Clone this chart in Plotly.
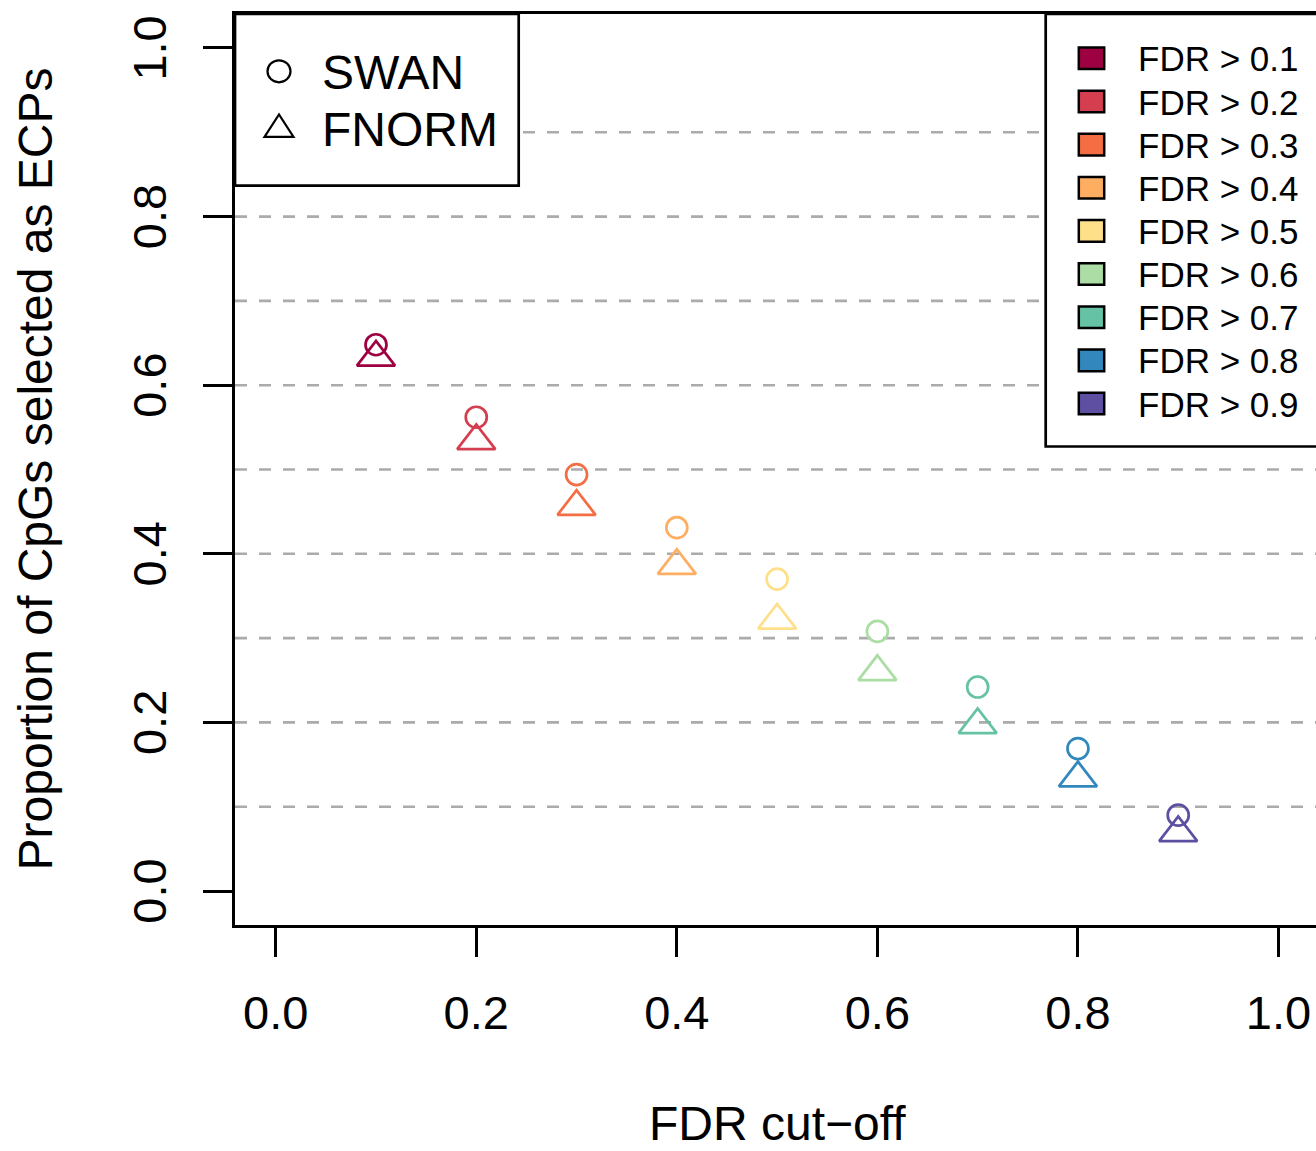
import plotly.graph_objects as go

# FDR cut-off values and the proportion of CpGs selected as ECPs for each method
fdr_cutoff = [0.1, 0.2, 0.3, 0.4, 0.5, 0.6, 0.7, 0.8, 0.9]
swan = [0.648, 0.562, 0.494, 0.431, 0.370, 0.308, 0.242, 0.169, 0.090]
fnorm = [0.633, 0.534, 0.456, 0.386, 0.321, 0.260, 0.197, 0.134, 0.069]

# Spectral palette, one colour per cut-off
fdr_colors = ["#9E0142", "#D53E4F", "#F46D43", "#FDAE61", "#FEE08B",
              "#ABDDA4", "#66C2A5", "#3288BD", "#5E4FA2"]
fdr_labels = ["FDR > 0.1", "FDR > 0.2", "FDR > 0.3", "FDR > 0.4", "FDR > 0.5",
              "FDR > 0.6", "FDR > 0.7", "FDR > 0.8", "FDR > 0.9"]
method_labels = ["SWAN", "FNORM"]

x_ticks = [0.0, 0.2, 0.4, 0.6, 0.8, 1.0]
y_ticks = [0.0, 0.2, 0.4, 0.6, 0.8, 1.0]
grid_levels = [0.1, 0.2, 0.3, 0.4, 0.5, 0.6, 0.7, 0.8, 0.9]

FONT = "Liberation Sans, Arial, sans-serif"
W, H = 1316, 1151
L, R, T, B = 235, 1316, 14, 925  # plot area in pixels
LW = 2.7


def px(x):
    return (x - L) / (R - L)


def py(y):
    return (B - y) / (B - T)


fig = go.Figure()

fig.add_trace(go.Scatter(
    x=fdr_cutoff, y=swan, mode="markers", name=method_labels[0], showlegend=False,
    marker=dict(symbol="circle-open", size=21, color=fdr_colors,
                line=dict(width=2.7)),
))
fig.add_trace(go.Scatter(
    x=fdr_cutoff, y=fnorm, mode="markers", name=method_labels[1], showlegend=False,
    marker=dict(symbol="triangle-up-open", size=33, color=fdr_colors,
                line=dict(width=2.7)),
))

shapes = []
# dashed horizontal reference lines
for g in grid_levels:
    shapes.append(dict(type="line", xref="paper", yref="y", x0=0, x1=1, y0=g, y1=g,
                       line=dict(color="#ABABAB", width=2.6, dash="12px,12px"),
                       layer="below"))

annotations = []

# method legend (top left)
shapes.append(dict(type="rect", xref="paper", yref="paper",
                   x0=px(235), x1=px(518.7), y0=py(185.7), y1=py(14),
                   line=dict(color="black", width=LW), fillcolor="white", layer="above"))
shapes.append(dict(type="circle", xref="paper", yref="paper",
                   x0=px(279 - 11.5), x1=px(279 + 11.5),
                   y0=py(71.3 + 11), y1=py(71.3 - 11),
                   line=dict(color="black", width=2.2), layer="above"))
tri_cx, tri_top, tri_base, tri_hw = 279, 114.5, 136.8, 14.5
shapes.append(dict(type="path", xref="paper", yref="paper",
                   path=(f"M {px(tri_cx - tri_hw)},{py(tri_base)} "
                         f"L {px(tri_cx + tri_hw)},{py(tri_base)} "
                         f"L {px(tri_cx)},{py(tri_top)} Z"),
                   line=dict(color="black", width=2.2), layer="above"))
for lbl, yc in zip(method_labels, [72.5, 130.0]):
    annotations.append(dict(text=lbl, xref="paper", yref="paper", x=px(320), y=py(yc),
                            xanchor="left", yanchor="middle", showarrow=False,
                            font=dict(family=FONT, size=48, color="black")))

# cut-off colour legend (top right)
shapes.append(dict(type="rect", xref="paper", yref="paper",
                   x0=px(1045.7), x1=px(1340), y0=py(446.5), y1=py(14),
                   line=dict(color="black", width=LW), fillcolor="white", layer="above"))
for i, (lbl, col) in enumerate(zip(fdr_labels, fdr_colors)):
    yc = 58.3 + 43.15 * i
    shapes.append(dict(type="rect", xref="paper", yref="paper",
                       x0=px(1091.5 - 12.7), x1=px(1091.5 + 12.7),
                       y0=py(yc + 10.8), y1=py(yc - 10.8),
                       line=dict(color="black", width=2.5), fillcolor=col, layer="above"))
    annotations.append(dict(text=lbl, xref="paper", yref="paper", x=px(1136), y=py(yc + 0.6),
                            xanchor="left", yanchor="middle", showarrow=False,
                            font=dict(family=FONT, size=35, color="black")))

# axis titles
annotations.append(dict(text="FDR cut\u2212off", xref="paper", yref="paper",
                        x=px(777), y=py(1123), xanchor="center", yanchor="middle",
                        showarrow=False, font=dict(family=FONT, size=48, color="black")))
annotations.append(dict(text="Proportion of CpGs selected as ECPs", xref="paper", yref="paper",
                        x=px(35), y=py(469.5), xanchor="center", yanchor="middle",
                        textangle=-90, showarrow=False,
                        font=dict(family=FONT, size=48, color="black")))

fig.update_layout(
    width=W, height=H,
    margin=dict(l=L, r=W - R, t=T, b=H - B, pad=0),
    paper_bgcolor="white", plot_bgcolor="white",
    showlegend=False,
    shapes=shapes, annotations=annotations,
    font=dict(family=FONT, size=47, color="black"),
)
fig.update_xaxes(
    range=[-0.0406, 1.0374], tickvals=x_ticks, tickformat=".1f",
    showgrid=False, zeroline=False,
    showline=True, mirror=True, linecolor="black", linewidth=LW,
    ticks="outside", ticklen=29, tickwidth=LW, tickcolor="black",
    ticklabelstandoff=16,
    tickfont=dict(family=FONT, size=47, color="black"),
)
fig.update_yaxes(
    range=[-0.0403, 1.0403], tickvals=y_ticks, tickformat=".1f",
    showgrid=False, zeroline=False,
    showline=True, mirror=False, linecolor="black", linewidth=LW,
    ticks="outside", ticklen=29, tickwidth=LW, tickcolor="black",
    tickangle=-90, ticklabelstandoff=18, ticklabelshift=7,
    tickfont=dict(family=FONT, size=47, color="black"),
)

fig.write_html("out.html")
